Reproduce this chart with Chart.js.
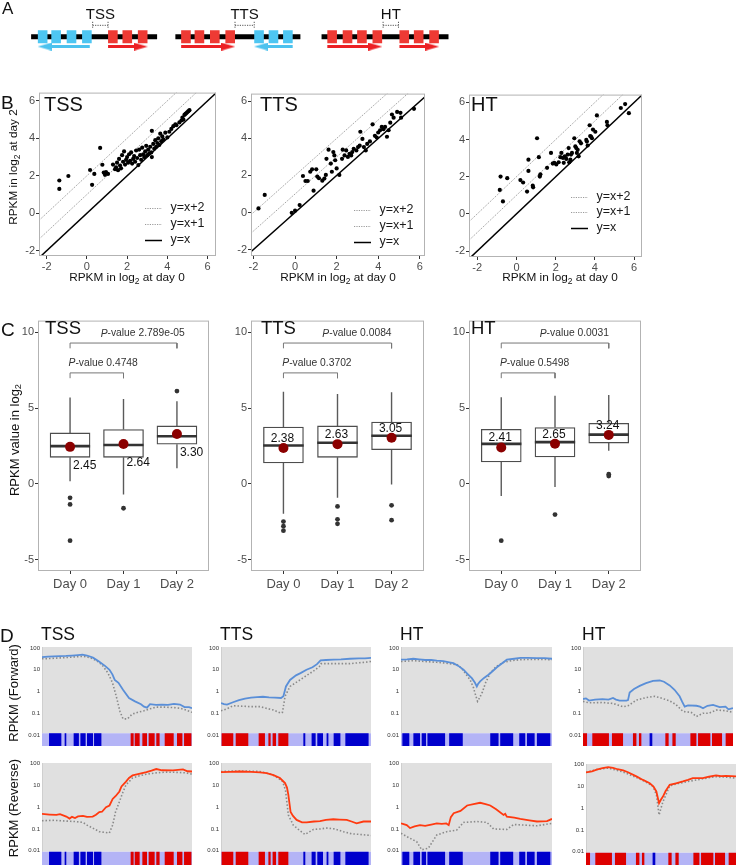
<!DOCTYPE html>
<html>
<head>
<meta charset="utf-8">
<script src="https://cdn.jsdelivr.net/npm/chart.js@4.4.1/dist/chart.umd.min.js"></script>
<style>
  body { margin: 0; background: #fff; width: 742px; height: 865px; position: relative; overflow: hidden;
         font-family: "Liberation Sans", Arial, Helvetica, sans-serif; }
  canvas { position: absolute; }
  .t { position: absolute; white-space: nowrap; color: #111; line-height: 1; }
  .t sub { font-size: 0.72em; vertical-align: -0.3em; line-height: 0; }
</style>
</head>
<body>
<script>
// ---------- panel A: gene layouts (schematic units) ----------
const aLabels = ['TSS', 'TTS', 'HT'];
const aBackbone = [[23, 154], [173, 303], [325, 457]];
const aBlueExons = [[30, 40], [44, 54], [60, 70], [76, 86], [255, 265], [270, 280], [285, 295]];
const aRedExons = [[103, 113], [118, 128], [134, 144], [179, 189], [193, 203], [209, 219], [225, 235],
                   [331, 341], [347, 357], [362, 372], [378, 388], [406, 416], [421, 431], [437, 447]];
const aBlueArrows = [[84, 30], [295, 255]];          // tail -> tip
const aRedArrows = [[103, 144], [179, 235], [331, 388], [406, 447]];
const aBrackets = [[87, 103], [235, 255], [389, 405]];

// ---------- panel B: RPKM (log2) day 0 vs day 2 ----------
const bTicks = [-2, 0, 2, 4, 6];
const bTssDay0 = [-1.37,-1.37,-0.92,0.16,0.26,0.37,0.66,0.77,0.84,0.90,0.95,1.05,1.30,1.40,1.45,1.50,1.55,1.60,1.65,1.70,
  1.75,1.80,1.85,1.90,1.95,2.00,2.05,2.10,2.15,2.20,2.25,2.30,2.35,2.40,2.45,2.50,2.56,2.60,2.65,2.70,
  2.75,2.80,2.85,2.90,2.95,3.00,3.05,3.10,3.15,3.20,3.23,3.23,3.30,3.35,3.40,3.45,3.50,3.55,3.60,3.65,
  3.70,3.75,3.80,3.90,4.00,4.10,4.20,4.30,4.40,4.45,4.60,4.70,4.75,4.80,4.85,4.90,4.95,5.00,5.05,5.10];
const bTssDay2 = [1.75,1.30,1.99,2.31,1.52,2.10,3.49,2.59,2.17,2.05,2.20,2.10,2.60,2.35,2.45,2.70,2.30,2.90,2.55,2.40,
  3.10,2.75,3.30,2.60,2.85,3.00,2.70,3.15,2.80,3.25,2.65,2.90,3.05,2.75,3.35,2.95,2.57,3.40,3.10,2.85,
  3.50,3.15,3.00,3.30,3.60,3.10,3.40,3.20,3.55,3.25,4.40,3.00,3.70,3.45,3.90,3.55,3.75,4.00,3.65,4.25,
  3.85,4.10,3.95,4.30,4.05,4.35,4.50,4.65,4.75,4.70,4.85,4.95,5.10,5.00,5.25,5.30,5.35,5.40,5.45,5.50];
const bTtsDay0 = [-1.76,-1.46,-0.16,0.00,0.22,0.38,0.50,0.61,0.73,0.82,0.89,1.02,1.07,1.15,1.31,1.41,1.48,1.51,1.61,1.72,
  1.77,1.84,1.89,1.93,2.00,2.13,2.26,2.29,2.38,2.46,2.54,2.62,2.70,2.75,2.82,2.95,3.03,3.11,3.14,3.24,
  3.31,3.40,3.47,3.60,3.73,3.84,3.93,4.00,4.09,4.17,4.25,4.33,4.42,4.50,4.58,4.66,4.74,4.91,5.07,5.10,5.72];
const bTtsDay2 = [0.22,0.95,-0.02,0.10,0.40,1.97,1.70,1.70,2.20,2.33,1.18,2.33,1.94,1.85,1.72,1.83,2.03,2.90,3.39,2.64,
  2.20,3.26,3.08,2.82,2.38,2.03,2.90,3.39,3.08,3.35,3.00,3.17,3.08,3.26,3.44,3.35,3.53,3.61,4.36,3.97,
  3.53,3.35,3.70,3.84,4.76,4.14,4.05,4.32,4.44,4.62,4.50,4.62,4.09,4.44,4.85,5.29,5.12,5.43,5.38,5.12,5.60];
const bHtDay0 = [-0.81,-0.47,-0.85,-0.69,0.20,0.34,0.54,0.61,0.61,0.83,0.85,1.05,1.14,1.19,1.22,1.56,1.76,1.85,1.93,2.03,
  2.15,2.24,2.29,2.37,2.41,2.46,2.54,2.61,2.66,2.69,2.75,2.78,2.83,2.95,3.00,3.05,3.08,3.12,3.17,3.22,
  3.29,3.56,3.59,3.63,3.73,3.76,3.80,3.85,3.90,4.02,4.10,4.61,4.64,5.32,5.54,5.73];
const bHtDay2 = [2.01,1.92,1.29,0.67,1.82,1.69,1.20,2.31,2.92,1.52,1.43,4.07,3.05,2.01,2.13,2.48,3.28,2.71,2.75,2.66,
  2.78,3.05,3.28,3.01,2.75,3.10,2.96,3.19,3.54,2.78,2.92,3.19,3.28,4.07,3.63,3.54,3.28,3.45,3.10,3.91,
  3.80,3.98,3.89,3.68,4.77,4.19,4.16,4.07,4.54,4.42,5.30,4.95,4.77,5.70,5.91,5.42];
const bGuideOffsets = [2, 1, 0];
const bGuideLabels = ['y=x+2', 'y=x+1', 'y=x'];

// ---------- panel C: box plots ----------
const cDays = ['Day 0', 'Day 1', 'Day 2'];
const cTicks = [-5, 0, 5, 10];
const tssQ1 = [1.76, 1.76, 2.63], tssMed = [2.50, 2.57, 3.15], tssQ3 = [3.37, 3.59, 3.83];
const tssLo = [0.18, -0.69, 1.04], tssHi = [5.70, 5.61, 5.46], tssMean = [2.45, 2.64, 3.30];
const tssOut = [[-0.91, -1.35, -3.74], [-1.60], [6.13]];
const tssP = ['2.789e-05', '0.4748'];
const ttsQ1 = [1.39, 1.76, 2.26], ttsMed = [2.54, 2.72, 3.18], ttsQ3 = [3.76, 3.83, 4.09];
const ttsLo = [-1.96, -0.91, -0.04], ttsHi = [6.09, 5.94, 6.05], ttsMean = [2.38, 2.63, 3.05];
const ttsOut = [[-2.48, -2.78, -3.08], [-1.48, -2.33, -2.63], [-1.41, -2.39]];
const ttsP = ['0.0084', '0.3702'];
const htQ1 = [1.46, 1.79, 2.70], htMed = [2.65, 2.76, 3.26], htQ3 = [3.61, 3.72, 4.00];
const htLo = [-0.80, -0.20, 2.20], htHi = [5.72, 5.83, 5.87], htMean = [2.41, 2.65, 3.24];
const htOut = [[-3.74], [-2.02], [0.65, 0.52]];
const htP = ['0.0031', '0.5498'];

// ---------- panel D: profiles, [position %, RPKM] ----------
const dTicks = [0.01, 0.1, 1, 10, 100];
const tssFwd = [[0,38],[4,40],[8,41],[12,42],[16,43],[20,45],[24,47],[27,49],[30,45],[34,36],[38,24],[42,15],[45,10],[47,6],
  [48.5,3.4],[51,2.5],[54,1.2],[58,0.5],[62,0.35],[66,0.26],[68,0.2],[70,0.18],[72,0.26],[76,0.24],[80,0.25],[84,0.24],
  [88,0.27],[92,0.25],[95,0.19],[98,0.19],[100,0.17]];
const tssFwdRef = [[0,32],[6,33],[12,35],[18,37],[24,40],[28,41],[32,36],[36,27],[40,17],[44,7],[47,2.5],[49.5,0.6],
  [52,0.12],[54,0.055],[57,0.055],[60,0.09],[64,0.11],[68,0.13],[72,0.16],[76,0.19],[82,0.19],[88,0.18],[92,0.17],[96,0.14],[100,0.11]];
const ttsFwd = [[0,0.29],[2,0.26],[4,0.25],[8,0.32],[12,0.4],[16,0.47],[20,0.52],[24,0.55],[28,0.57],[32,0.53],[36,0.52],
  [40,0.5],[41.6,0.6],[43.3,1.7],[46,3.4],[50,5.5],[53,7],[57,10],[61,13],[64,18],[66.4,27],[70,28],[75,29],[80,30],
  [86,32],[92,33],[96,33],[100,35]];
const ttsFwdRef = [[0,0.13],[4,0.16],[8,0.22],[14,0.21],[20,0.2],[26,0.2],[30,0.17],[35,0.14],[40,0.1],[41,0.11],[42.7,0.6],
  [46,1.7],[52.7,3.4],[58,6],[62,9],[65.6,14],[66.7,19],[72,19],[80,19],[86,19],[92,21],[96,22],[100,24]];
const htFwd = [[0,29],[4,30],[8.2,32],[12,30],[16,28],[20,28],[23.7,26],[28,25],[32,22],[34.7,20],[38,15],[41.4,10],[44,6.5],
  [46.9,4.1],[49,2.5],[50.2,1.7],[51,2.2],[52.4,2.9],[55,4.2],[57.9,5.9],[61,9],[63.5,13],[67,20],[70.1,29],[75,32],
  [79,35],[84,35],[90,34],[95,34],[100,32]];
const htFwdRef = [[0,24],[8,26],[16,24],[23.7,22],[30,20],[37.2,17],[40,12],[45.8,3.4],[48,1.5],[49.1,0.8],[50.7,0.35],
  [52,0.5],[53.8,0.9],[56,2.5],[59.1,7],[63,14],[68,22],[73,26],[79,29],[88,30],[100,29]];
const ht2Fwd = [[0,0.45],[2,0.48],[4,0.38],[8,0.42],[13,0.44],[17,0.42],[20,0.5],[22,0.42],[24.4,0.38],[28.9,0.38],[30,0.4],
  [31.1,0.9],[34,1.3],[37.8,1.8],[42,2.4],[46.7,3.1],[51.1,3.2],[54,2.8],[57.8,1.9],[61,1.2],[64.4,0.6],[66,0.35],
  [67.8,0.2],[70,0.23],[75.6,0.22],[78,0.2],[80,0.17],[83,0.22],[86.7,0.24],[91.1,0.19],[95,0.2],[97,0.15],[100,0.17]];
const ht2FwdRef = [[0,0.35],[4,0.3],[13.3,0.31],[20,0.28],[26.7,0.2],[30,0.22],[35.6,0.4],[42,0.52],[47.8,0.6],[52,0.5],
  [57.8,0.37],[62,0.25],[66.7,0.12],[72,0.11],[75.6,0.07],[80,0.1],[84,0.1],[88.9,0.14],[95,0.13],[100,0.11]];
const tssRev = [[0,0.49],[5,0.46],[9.6,0.44],[12,0.48],[16.2,0.37],[18.4,0.3],[20,0.36],[22,0.32],[24,0.38],[27.3,0.4],
  [30,0.36],[33.8,0.37],[36,0.45],[38.2,0.6],[40,0.62],[42.7,1.0],[45,1.2],[47.1,2.4],[49,3.2],[51.6,5.3],[53,9],[56,15],
  [58,22],[60.4,29],[64,33],[69.6,41],[73,48],[76.2,57],[80,50],[87.3,49],[94,55],[97,45],[100,44]];
const tssRevRef = [[0,0.24],[8,0.25],[16.2,0.23],[22,0.22],[27.3,0.2],[30,0.15],[33.8,0.11],[38.2,0.075],[44.9,0.065],
  [47.1,0.15],[49,0.6],[51.6,1.8],[54,5],[56,10.7],[60.4,22],[65,28],[69.6,33],[76,38],[82.9,41],[90,40],[96,38],[100,33]];
const ttsRev = [[0,41],[6,42],[12.7,44],[20,42],[26,40],[30.4,37],[35,30],[39.3,22],[42.7,12.8],[44,8],[44.9,3.7],[46.4,0.6],
  [48,0.4],[50.4,0.26],[54,0.2],[57.1,0.2],[62,0.22],[66,0.23],[70,0.26],[74.9,0.28],[79,0.27],[83.8,0.26],[87,0.22],
  [90.4,0.18],[95,0.22],[100,0.22]];
const ttsRevRef = [[0,44],[8,46],[16,46],[26,44],[34,32],[38,22],[41.1,15],[43,6],[44.9,0.44],[48.2,0.15],[52,0.09],
  [56,0.056],[61.6,0.095],[66,0.1],[70.4,0.11],[76,0.1],[81.6,0.075],[87,0.06],[92.7,0.056],[100,0.05]];
const htRev = [[0,0.18],[3.8,0.15],[6,0.11],[9,0.13],[12.6,0.15],[16,0.14],[20,0.16],[23.7,0.18],[27,0.17],[30,0.18],
  [31.6,0.15],[33,0.35],[34.9,0.53],[39.4,0.68],[43.8,1.2],[48,1.4],[52.4,1.6],[56,1.4],[59.1,1.2],[63,0.8],[67.9,0.44],
  [69,0.5],[70.1,0.37],[75,0.33],[79,0.29],[85,0.25],[90,0.22],[96.7,0.23],[100,0.29]];
const htRevRef = [[0,0.063],[6,0.037],[10.4,0.026],[13.7,0.011],[18.1,0.013],[23.7,0.053],[30.3,0.075],[36.9,0.089],
  [41.4,0.2],[50.2,0.22],[56.9,0.2],[61.3,0.1],[70.1,0.095],[74.6,0.16],[90,0.14],[100,0.18]];
const ht2Rev = [[0,44],[4,50],[7.1,59],[11,70],[14.8,78],[18,72],[21,62],[24.8,55],[28,45],[33.6,29],[38,20],[42.5,14],
  [45,10],[46.9,5.9],[48.7,1.7],[50,2.5],[51.3,3.45],[53,6],[55.8,11.9],[60,14],[64.6,17],[68,20],[71.2,24],[75,24],
  [77.9,24],[82,28],[86.7,32],[90,30],[93.4,31],[97,30],[100,29]];
const ht2RevRef = [[0,44],[7,60],[14.8,70],[24,48],[33.6,26],[40,16],[44.7,10],[47,4],[48.7,0.49],[50,1.0],[51.3,2.0],
  [55.8,10.7],[62,14],[70,18],[77.9,22.6],[86,28],[93,27],[100,24]];
// strand tracks, [start %, end %]
const tssBlueTrack = [[4.7,12.9],[15.1,16.2],[21.1,24.6],[25.6,29.1],[30.0,34.0],[34.7,39.6]];
const tssRedTrack = [[59.1,61.1],[61.8,65.1],[66.9,70.0],[71.1,75.1],[76.2,78.4],[81.8,87.8],[90.0,93.6],[94.7,99.6]];
const ttsBlueTrack = [[54.9,56.2],[60.4,63.1],[64.2,68],[70.4,71.6],[75.1,79.6],[82.9,98.4]];
const ttsRedTrack = [[0.4,8.2],[9.8,18.2],[25.1,29.3],[31.6,33.1],[34.4,36.7],[38.2,44.9]];
const htBlueTrack = [[0.9,5.5],[8.2,12.6],[13.7,16.6],[17.5,29.2],[31.9,40.9],[59.1,64.6],[65.7,74.3],[78.3,82.3],[83.4,88.5],[90,98.9]];
const htRedTrack = [];
const ht2BlueTrack = [[44.4,46.2]];
const ht2RedTrack = [[0,2.7],[6.2,17.3],[19.3,26.7],[33.3,35.6],[37.3,38.9],[54.9,57.1],[59.6,61.8],[71.6,75.6],[76.7,84.9],[86,92.7],[95.1,100]];

// ---------- helpers ----------
const FONT = '"Liberation Sans", Arial, Helvetica, sans-serif';
Chart.defaults.font.family = FONT;
Chart.defaults.animation = false;
Chart.defaults.responsive = false;
Chart.defaults.plugins.legend.display = false;
Chart.defaults.plugins.tooltip.enabled = false;

function mount(area, yW, xH, pad) {
  const c = document.createElement('canvas');
  c.width = area[2] - area[0] + yW + 2 * pad;
  c.height = area[3] - area[1] + xH + 2 * pad;
  c.style.left = (area[0] - yW - pad) + 'px';
  c.style.top = (area[1] - pad) + 'px';
  document.body.appendChild(c);
  return c;
}

function segs(spans, y) {
  const out = [];
  spans.forEach(([a, b]) => out.push({x: a, y}, {x: b, y}, {x: b, y: null}));
  return out;
}

function text(html, x, y, size, opts = {}) {
  const d = document.createElement('div');
  d.className = 't';
  d.innerHTML = html;
  d.style.left = x + 'px';
  d.style.top = y + 'px';
  d.style.fontSize = size + 'px';
  if (opts.family) d.style.fontFamily = opts.family;
  if (opts.rot) d.style.transform = 'translate(-50%,-50%) rotate(-90deg)';
  else if (opts.center) d.style.transform = 'translate(-50%,-50%)';
  else d.style.transform = 'translate(0,-50%)';
  document.body.appendChild(d);
}

const frame = {
  id: 'frame',
  afterDatasetsDraw(chart) {
    const {ctx, chartArea: a} = chart;
    ctx.save();
    ctx.strokeStyle = '#b3b3b3';
    ctx.lineWidth = 1;
    ctx.strokeRect(a.left + 0.5, a.top + 0.5, a.width - 1, a.height - 1);
    ctx.restore();
  }
};

function axisStyle(size, afterFit) {
  return {
    offset: false,
    grid: {drawOnChartArea: false, drawTicks: true, tickLength: 3, tickColor: '#333', tickWidth: 1, offset: false},
    border: {display: false},
    ticks: {font: {size}, color: '#4d4d4d', padding: 1, autoSkip: false, maxRotation: 0},
    afterFit
  };
}

// ---------- panel A ----------
function headCanvas(color) {
  const c = document.createElement('canvas');
  c.width = 14; c.height = 8;
  const g = c.getContext('2d');
  g.fillStyle = color;
  g.beginPath(); g.moveTo(0, 0); g.lineTo(14, 4); g.lineTo(0, 8); g.closePath(); g.fill();
  return c;
}
const blueC = '#4ec6f2', redC = '#ee3a34';
const arrowY = 53, geneY = 39;
function arrowSet(spans, color) {
  const head = headCanvas(color);
  return spans.map(([t, h]) => ({
    data: [{x: t, y: arrowY}, {x: h - 7 * Math.sign(h - t), y: arrowY}],
    borderColor: color, borderWidth: 3, pointRadius: [0, 6], pointStyle: head,
    pointRotation: h > t ? 0 : 180
  }));
}
const bracketData = [];
aBrackets.forEach(([a, b]) => {
  bracketData.push({x: a, y: 18}, {x: a, y: 28}, {x: a, y: null},
                   {x: a, y: 23}, {x: b, y: 23}, {x: b, y: null},
                   {x: b, y: 18}, {x: b, y: 28}, {x: b, y: null});
});
new Chart(mount([0, 0, 470, 62], 0, 0, 0), {
  type: 'line',
  data: {datasets: [
    {data: segs(aBlueExons, geneY), borderColor: blueC, borderWidth: 13},
    {data: segs(aRedExons, geneY), borderColor: redC, borderWidth: 13},
    {data: segs(aBackbone, geneY), borderColor: '#000', borderWidth: 5},
    ...arrowSet(aBlueArrows, '#4cc2ee'),
    ...arrowSet(aRedArrows, '#ec2024'),
    {data: bracketData, borderColor: '#555', borderWidth: 1, borderDash: [1.2, 1.2]}
  ].map(d => Object.assign({pointRadius: 0, spanGaps: false, borderCapStyle: 'butt'}, d))},
  options: {
    devicePixelRatio: 1,
    layout: {padding: 0},
    scales: {
      x: {type: 'linear', min: 0, max: 470, display: false},
      y: {type: 'linear', min: 0, max: 62, reverse: true, display: false}
    }
  },
  plugins: [{
    id: 'aText',
    afterDatasetsDraw(chart) {
      const {ctx, scales: {x, y}} = chart;
      ctx.save();
      ctx.font = '15px "Liberation Sans Narrow", ' + FONT;
      ctx.fillStyle = '#111';
      ctx.textAlign = 'center';
      ctx.textBaseline = 'middle';
      aBrackets.forEach((b, i) => ctx.fillText(aLabels[i], x.getPixelForValue((b[0] + b[1]) / 2), y.getPixelForValue(8)));
      ctx.restore();
    }
  }]
});

// ---------- panel B ----------
function scatterPanel(area, xs, ys, xr, yr, legendDy) {
  const guides = bGuideOffsets.map(k => ({
    type: 'line',
    data: [{x: xr[0], y: xr[0] + k}, {x: xr[1], y: xr[1] + k}],
    borderColor: k === 0 ? '#000' : '#808080',
    borderWidth: k === 0 ? 1.5 : 0.8,
    borderDash: k === 0 ? [] : [1.2, 1.2],
    pointRadius: 0
  }));
  new Chart(mount(area, 30, 20, 4), {
    type: 'scatter',
    data: {datasets: [
      {data: xs.map((v, i) => ({x: v, y: ys[i]})), backgroundColor: '#000', borderWidth: 0, pointRadius: 2.1},
      ...guides
    ]},
    options: {
      devicePixelRatio: 1,
      layout: {padding: 4},
      scales: {
        x: Object.assign(axisStyle(11, s => { s.height = 20; }), {
          type: 'linear', min: xr[0], max: xr[1],
          afterBuildTicks: s => { s.ticks = bTicks.map(v => ({value: v})); }
        }),
        y: Object.assign(axisStyle(11, s => { s.width = 30; }), {
          type: 'linear', min: yr[0], max: yr[1],
          afterBuildTicks: s => { s.ticks = bTicks.map(v => ({value: v})); }
        })
      }
    },
    plugins: [frame, {
      id: 'guideLegend',
      afterDatasetsDraw(chart) {
        const {ctx, chartArea: a} = chart;
        ctx.save();
        ctx.font = '12.5px ' + FONT;
        ctx.textBaseline = 'middle';
        ctx.fillStyle = '#1a1a1a';
        legendDy.forEach((dy, i) => {
          const yy = Math.round(a.bottom + dy) + 0.5;
          ctx.beginPath();
          ctx.moveTo(a.right - 71, yy);
          ctx.lineTo(a.right - 54, yy);
          ctx.strokeStyle = i === 2 ? '#000' : '#808080';
          ctx.lineWidth = i === 2 ? 1.5 : 0.8;
          ctx.setLineDash(i === 2 ? [] : [1.2, 1.2]);
          ctx.stroke();
          ctx.fillText(bGuideLabels[i], a.right - 45.5, a.bottom + dy);
        });
        ctx.restore();
      }
    }]
  });
}
scatterPanel([39, 89, 216, 256], bTssDay0, bTssDay2, [-2.38, 6.42], [-2.28, 6.44], [-48, -32.5, -16]);
scatterPanel([251, 90, 425, 256], bTtsDay0, bTtsDay2, [-2.12, 6.25], [-2.35, 6.42], [-46, -30.5, -14.5]);
scatterPanel([469, 91, 642, 257], bHtDay0, bHtDay2, [-2.42, 6.4], [-2.32, 6.42], [-60.5, -45, -29.5]);

// ---------- panel C ----------
function boxPanel(area, q1, med, q3, lo, hi, mean, outs, pv, below) {
  const whisk = [], medians = [], outPts = [];
  cDays.forEach((d, i) => {
    const x = i + 1;
    whisk.push({x, y: q3[i]}, {x, y: hi[i]}, {x, y: null}, {x, y: q1[i]}, {x, y: lo[i]}, {x, y: null});
    medians.push({x: x - 0.375, y: med[i]}, {x: x + 0.375, y: med[i]}, {x: x + 0.375, y: null});
    outs[i].forEach(v => outPts.push({x, y: v}));
  });
  const brTop = 9.3, brLow = 7.33, drop = 0.35;
  const brackets = [
    {x: 1, y: brTop - drop}, {x: 1, y: brTop}, {x: 3, y: brTop}, {x: 3, y: brTop - drop}, {x: 3, y: null},
    {x: 1, y: brLow - drop}, {x: 1, y: brLow}, {x: 2, y: brLow}, {x: 2, y: brLow - drop}
  ];
  new Chart(mount(area, 32, 26, 4), {
    type: 'scatter',
    data: {datasets: [
      {data: mean.map((v, i) => ({x: i + 1, y: v})), backgroundColor: '#8b0000', borderWidth: 0, pointRadius: 5},
      {data: outPts, backgroundColor: '#333', borderWidth: 0, pointRadius: 2.4},
      {type: 'line', data: medians, borderColor: '#333', borderWidth: 2.6, pointRadius: 0, spanGaps: false},
      {type: 'bar', data: cDays.map((d, i) => ({x: i + 1, y: [q1[i], q3[i]]})), backgroundColor: '#fff',
       borderColor: '#4d4d4d', borderWidth: 1.3, borderSkipped: false, barThickness: 40},
      {type: 'line', data: whisk, borderColor: '#5a5a5a', borderWidth: 1.4, pointRadius: 0, spanGaps: false},
      {type: 'line', data: brackets, borderColor: '#777', borderWidth: 1, pointRadius: 0, spanGaps: false}
    ]},
    options: {
      devicePixelRatio: 1,
      layout: {padding: 4},
      scales: {
        x: Object.assign(axisStyle(13, s => { s.height = 26; }), {
          type: 'linear', min: 0.4, max: 3.6,
          afterBuildTicks: s => { s.ticks = cDays.map((d, i) => ({value: i + 1})); },
          ticks: {font: {size: 13}, color: '#4d4d4d', padding: 3, autoSkip: false, maxRotation: 0,
                  callback: v => cDays[v - 1]}
        }),
        y: Object.assign(axisStyle(11, s => { s.width = 32; }), {
          type: 'linear', min: -5.74, max: 10.78,
          afterBuildTicks: s => { s.ticks = cTicks.map(v => ({value: v})); }
        })
      }
    },
    plugins: [frame, {
      id: 'boxText',
      afterDatasetsDraw(chart) {
        const {ctx, scales: {x, y}} = chart;
        ctx.save();
        ctx.textBaseline = 'middle';
        ctx.fillStyle = '#111';
        ctx.font = '12px ' + FONT;
        mean.forEach((m, i) => {
          const px = x.getPixelForValue(i + 1);
          if (below) {
            ctx.textAlign = 'left';
            ctx.fillText(m.toFixed(2), px + 3, y.getPixelForValue(m - 1.23));
          } else {
            ctx.textAlign = 'center';
            ctx.fillText(m.toFixed(2), px - 1, y.getPixelForValue(m + 0.62));
          }
        });
        // p-value labels
        ctx.fillStyle = '#333';
        ctx.textAlign = 'left';
        [[2.36, brTop, pv[0]], [1.62, brLow, pv[1]]].forEach(([cx, by, p]) => {
          const it = 'italic 10.3px ' + FONT, nm = '10.3px ' + FONT;
          const rest = '-value ' + p;
          ctx.font = it; const w1 = ctx.measureText('P').width;
          ctx.font = nm; const w2 = ctx.measureText(rest).width;
          const left = x.getPixelForValue(cx) - (w1 + w2) / 2;
          const py = y.getPixelForValue(by + 0.62);
          ctx.font = it; ctx.fillText('P', left, py);
          ctx.font = nm; ctx.fillText(rest, left + w1, py);
        });
        ctx.restore();
      }
    }]
  });
}
boxPanel([38, 317, 210, 571], tssQ1, tssMed, tssQ3, tssLo, tssHi, tssMean, tssOut, tssP, true);
boxPanel([251, 317, 425, 571], ttsQ1, ttsMed, ttsQ3, ttsLo, ttsHi, ttsMean, ttsOut, ttsP, false);
boxPanel([469, 317, 642, 571], htQ1, htMed, htQ3, htLo, htHi, htMean, htOut, htP, false);

// ---------- panel D ----------
function profilePanel(area, line, ref, color, blueTrack, redTrack, yMin, yMax, trackTop) {
  const h = area[3] - area[1];
  const trackPx = h * Math.log(trackTop / yMin) / Math.log(yMax / yMin);
  const trackMid = Math.sqrt(yMin * trackTop);
  const toXY = arr => arr.map(([x, y]) => ({x, y}));
  new Chart(mount(area, 22, 0, 6), {
    type: 'line',
    data: {datasets: [
      {data: toXY(line), borderColor: color, borderWidth: 1.8},
      {data: toXY(ref), borderColor: '#8a8a8a', borderWidth: 1.6, borderDash: [1.5, 2]},
      {data: segs(blueTrack, trackMid), borderColor: '#0000cc', borderWidth: trackPx},
      {data: segs(redTrack, trackMid), borderColor: '#dd0000', borderWidth: trackPx},
      {data: segs([[0, 100]], trackMid), borderColor: '#b4b4f6', borderWidth: trackPx}
    ].map(d => Object.assign({pointRadius: 0, spanGaps: false, borderCapStyle: 'butt', tension: 0}, d))},
    options: {
      devicePixelRatio: 1,
      layout: {padding: 6},
      scales: {
        x: {type: 'linear', min: 0, max: 100, display: false},
        y: {
          type: 'logarithmic', min: yMin, max: yMax,
          afterBuildTicks: s => { s.ticks = dTicks.map(v => ({value: v})); },
          afterFit: s => { s.width = 22; },
          grid: {display: false, drawTicks: false},
          border: {display: false},
          ticks: {font: {size: 6}, color: '#333', padding: 2, autoSkip: false, callback: v => String(v)}
        }
      }
    },
    plugins: [{
      id: 'panelBg',
      beforeDatasetsDraw(chart) {
        const {ctx, chartArea: a, scales: {y}} = chart;
        ctx.save();
        ctx.fillStyle = '#e0e0e0';
        ctx.fillRect(a.left, a.top, a.width, y.getPixelForValue(trackTop) - a.top);
        ctx.fillStyle = '#cfcfcf';
        ctx.fillRect(a.left, a.top, 1, y.getPixelForValue(trackTop) - a.top);
        ctx.restore();
      }
    }]
  });
}
const fwdBlue = '#5a8fd8', revRed = '#ff3a10';
profilePanel([42, 647, 192, 746], tssFwd, tssFwdRef, fwdBlue, tssBlueTrack, tssRedTrack, 0.0031, 111, 0.012);
profilePanel([221, 647, 371, 746], ttsFwd, ttsFwdRef, fwdBlue, ttsBlueTrack, ttsRedTrack, 0.0031, 111, 0.012);
profilePanel([401, 647, 552, 746], htFwd, htFwdRef, fwdBlue, htBlueTrack, htRedTrack, 0.0031, 111, 0.012);
profilePanel([583, 647, 733, 746], ht2Fwd, ht2FwdRef, fwdBlue, ht2BlueTrack, ht2RedTrack, 0.0031, 111, 0.012);
profilePanel([42, 763, 192, 865], tssRev, tssRevRef, revRed, tssBlueTrack, tssRedTrack, 0.0022, 108, 0.009);
profilePanel([221, 763, 371, 865], ttsRev, ttsRevRef, revRed, ttsBlueTrack, ttsRedTrack, 0.0022, 108, 0.009);
profilePanel([401, 763, 552, 865], htRev, htRevRef, revRed, htBlueTrack, htRedTrack, 0.0022, 108, 0.009);
profilePanel([586, 764, 736, 866], ht2Rev, ht2RevRef, revRed, ht2BlueTrack, ht2RedTrack, 0.0022, 108, 0.009);

// ---------- text ----------
const narrow = '"Liberation Sans Narrow", ' + FONT;
text('A', 2, 8, 17, {family: narrow});
text('B', 1, 101.5, 19);
text('C', 1, 329, 19);
text('D', 0, 635, 19);
text('TSS', 44, 104, 20); text('TTS', 260, 104, 20); text('HT', 471, 104, 20);
const xTitle = 'RPKM in log<sub>2</sub> at day 0';
text(xTitle, 127, 278, 11.8, {center: true});
text(xTitle, 338, 278, 11.8, {center: true});
text(xTitle, 560, 278, 11.8, {center: true});
text('RPKM in log<sub>2</sub> at day 2', 14, 167, 11.8, {rot: true});
text('TSS', 45, 328, 18.5); text('TTS', 261, 328, 18.5); text('HT', 471, 328, 18.5);
text('RPKM value in log<sub>2</sub>', 14, 440, 13, {rot: true});
text('TSS', 41, 635, 17.5); text('TTS', 220, 635, 17.5); text('HT', 400, 635, 17.5); text('HT', 582, 635, 17.5);
text('RPKM (Forward)', 13, 693, 13, {rot: true});
text('RPKM (Reverse)', 13, 808, 13, {rot: true});
</script>
</body>
</html>
